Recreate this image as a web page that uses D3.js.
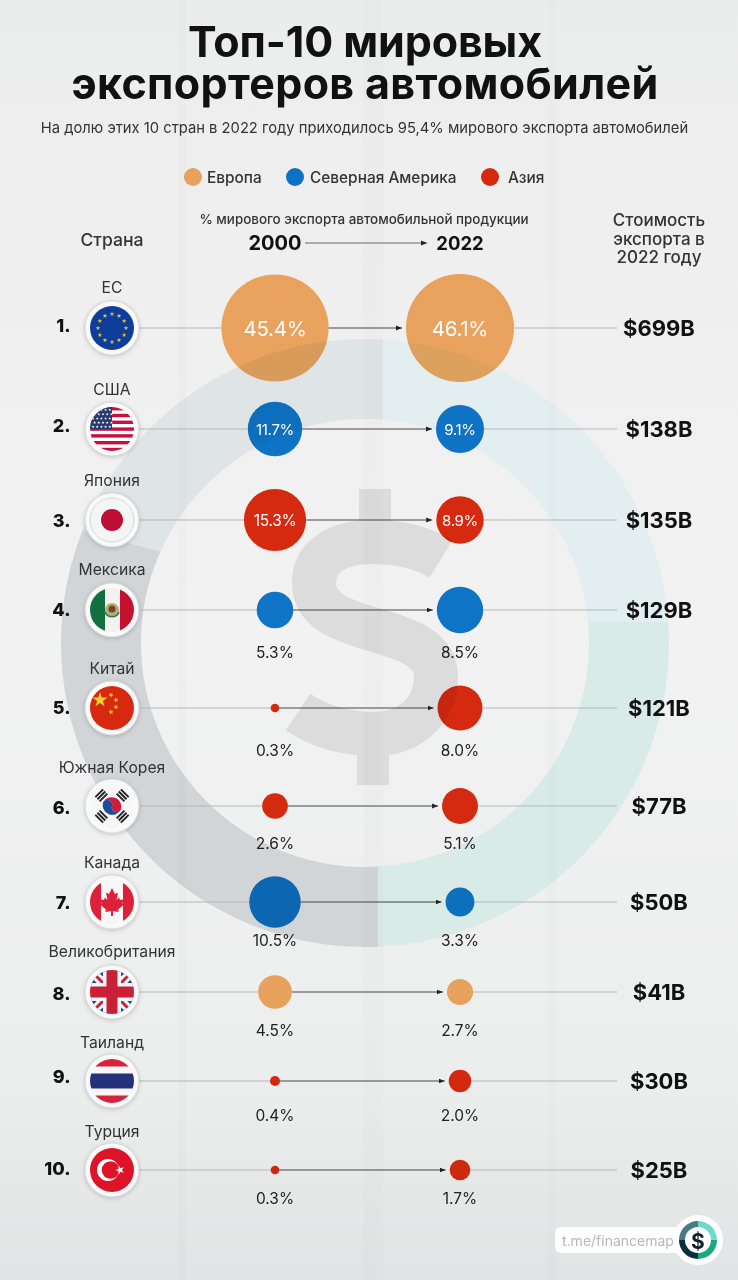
<!DOCTYPE html>
<html><head><meta charset="utf-8">
<script src="https://cdn.jsdelivr.net/npm/d3@7/dist/d3.min.js"></script>
<style>html,body{margin:0;padding:0;background:#eee}svg{display:block}text{font-family:Inter,"Noto Sans",sans-serif}</style>
</head><body><div id="c"></div>
<script>
const countries=["ЕС","США","Япония","Мексика","Китай","Южная Корея","Канада","Великобритания","Таиланд","Турция"];
const regions=["Европа","Северная Америка","Азия"];
const countryRegion=["Европа","Северная Америка","Азия","Северная Америка","Азия","Азия","Северная Америка","Европа","Азия","Азия"];
const share2000=[45.4,11.7,15.3,5.3,0.3,2.6,10.5,4.5,0.4,0.3];
const share2022=[46.1,9.1,8.9,8.5,8.0,5.1,3.3,2.7,2.0,1.7];
const exportValue=[699,138,135,129,121,77,50,41,30,25];
const years=["2000","2022"];
const regionColors=["#f8ad63","#0f7ad2","#e32c10"];
// layout
const rowCentres=[328,429,520,610,708,806,902,992,1081,1170];
const nameCentres=[287,389,480,569,668,767,862,951,1042,1131];
const rankCentres=[325,425,520,609,707,807,902,993,1076,1168];
const labelGaps=[0,0,0,42,42,37,38,38,34,28];
const insideSizes=[20.5,20.5,15,15,15.5,15];

const W=738,H=1280;
const svg=d3.select("#c").append("svg").attr("width",W).attr("height",H).attr("viewBox",[0,0,W,H]);
const defs=svg.append("defs");
const y=d3.scaleOrdinal().domain(countries).range(rowCentres);
const x=d3.scalePoint().domain(years).range([275,460]);
const r=d3.scaleSqrt().domain([0,46.1]).range([0,54]);
const color=d3.scaleOrdinal().domain(regions).range(regionColors);
const pct=v=>v.toFixed(1)+"%";

function txt(g,s,px,py,size,weight,fill,anchor="middle",extra={}){
  const t=g.append("text").attr("x",px).attr("y",py).attr("font-size",size).attr("font-weight",weight)
   .attr("fill",fill).attr("text-anchor",anchor).attr("dominant-baseline","central").text(s);
  for(const k in extra)t.attr(k,extra[k]);
  return t;
}
// background
const bg=defs.append("linearGradient").attr("id","bg").attr("x1",0).attr("x2",0).attr("y1",0).attr("y2",1);
[[0,"#ebecec"],[.1,"#eeeeee"],[.5,"#f2f2f2"],[.85,"#eceded"],[1,"#e1e4e4"]].forEach(d=>bg.append("stop").attr("offset",d[0]).attr("stop-color",d[1]));
svg.append("rect").attr("width",W).attr("height",H).attr("fill","url(#bg)");
const back=svg.append("g");
// logo ring
const cx=365,cy=643,ro=304,ri=224;
const ringPath=d3.arc()({innerRadius:ri,outerRadius:ro,startAngle:0,endAngle:2*Math.PI});
const parts=[
 ["#dfe5e7","M-5,525 L165,553 L383,553 L383,300 L-5,300Z"],
 ["#e2eef0","M383,300 L720,300 L720,622 L378,622 L383,622Z"],
 ["#d8ebe6","M378,622 L720,622 L720,980 L378,980Z"],
 ["#d2d5d7","M40,519 L165,553 L383,553 L378,622 L378,980 L0,980 L0,519Z"]
];
parts.forEach((p,i)=>{
  defs.append("clipPath").attr("id","q"+i).append("path").attr("d",p[1]);
  back.append("g").attr("clip-path",`url(#q${i})`).append("path").attr("d",ringPath)
   .attr("transform",`translate(${cx},${cy})`).attr("fill",p[0]);
});
// dollar
const dc="#dcdcdc";
back.append("path").attr("fill","none").attr("stroke",dc).attr("stroke-width",44)
 .attr("d","M441,559 C420,546 395,542 372,542 C335,542 314,558 314,583 C314,610 340,620 375,630 C410,640 436,650 436,677 C436,710 410,734 375,734 C345,734 320,727 298,712");
back.append("rect").attr("x",359).attr("y",489).attr("width",32).attr("height",40).attr("fill",dc);
back.append("rect").attr("x",357).attr("y",748).attr("width",32).attr("height",37).attr("fill",dc);
// bands
[[178,8],[363,20],[548,8]].forEach(b=>back.append("rect").attr("x",b[0]).attr("y",0).attr("width",b[1]).attr("height",H).attr("fill","#000").attr("opacity",.012));

// header
const title=svg.append("text").attr("text-anchor","middle").attr("font-size",43).attr("font-weight",700).attr("fill","#111");
["Топ-10 мировых","экспортеров автомобилей"].forEach((s,i)=>title.append("tspan").attr("x",365).attr("y",57+i*42).attr("letter-spacing",i?0.35:-0.1).text(s));
txt(svg,"На долю этих 10 стран в 2022 году приходилось 95,4% мирового экспорта автомобилей",364.5,128,14.75,400,"#333");
// legend
const legendDots=[193,295,490],legendText=[207,310,508];
regions.forEach((d,i)=>{
  svg.append("circle").attr("cx",legendDots[i]).attr("cy",177).attr("r",9).attr("fill",color(d)).style("mix-blend-mode","multiply");
  txt(svg,d,legendText[i],177,15.4,500,"#333","start");
});
txt(svg,"% мирового экспорта автомобильной продукции",364,219,13.4,500,"#333");
txt(svg,"2000",x("2000"),243,20,700,"#111");
txt(svg,"2022",x("2022"),243,18.5,700,"#111");
defs.append("marker").attr("id","ah").attr("viewBox","0 0 6 6").attr("refX",6).attr("refY",3).attr("markerWidth",6).attr("markerHeight",6).attr("markerUnits","userSpaceOnUse").attr("orient","auto")
 .append("path").attr("d","M0,0.6L6,3L0,5.4Z").attr("fill","#222");
svg.append("line").attr("x1",305).attr("x2",427).attr("y1",243).attr("y2",243).attr("stroke","#444").attr("stroke-width",.8).attr("marker-end","url(#ah)");
txt(svg,"Страна",112,239,17.6,500,"#333");
["Стоимость","экспорта в","2022 году"].forEach((s,i)=>txt(svg,s,659,220+18.5*i,17,500,"#333"));

// rows
const rows=countries.map((c,i)=>({c,i,reg:countryRegion[i],a:share2000[i],b:share2022[i],v:exportValue[i]}));
const row=svg.selectAll("g.row").data(rows).join("g").attr("class","row");
row.append("line").attr("x1",138).attr("x2",d=>x("2000")-r(d.a)).attr("y1",d=>y(d.c)).attr("y2",d=>y(d.c)).attr("stroke","#b5b7b7").attr("stroke-width",1);
row.append("line").attr("x1",d=>x("2022")+r(d.b)).attr("x2",617).attr("y1",d=>y(d.c)).attr("y2",d=>y(d.c)).attr("stroke","#b5b7b7").attr("stroke-width",1);
row.append("line").attr("x1",d=>x("2000")+r(d.a)).attr("x2",d=>x("2022")-r(d.b)-4).attr("y1",d=>y(d.c)).attr("y2",d=>y(d.c)).attr("stroke","#333").attr("stroke-width",.9).attr("marker-end","url(#ah)");
row.append("circle").attr("cx",x("2000")).attr("cy",d=>y(d.c)).attr("r",d=>r(d.a)).attr("fill",d=>color(d.reg)).style("mix-blend-mode","multiply");
row.append("circle").attr("cx",x("2022")).attr("cy",d=>y(d.c)).attr("r",d=>r(d.b)).attr("fill",d=>color(d.reg)).style("mix-blend-mode","multiply");
rows.forEach(d=>{
  const g=row.filter(e=>e===d),Y=y(d.c),i=d.i;
  if(i<3){
    txt(g,pct(d.a),x("2000"),Y,insideSizes[i*2],400,"#fff",undefined,{"letter-spacing":-0.3});
    txt(g,pct(d.b),x("2022"),Y,insideSizes[i*2+1],400,"#fff",undefined,{"letter-spacing":-0.3});
  }else{
    txt(g,pct(d.a),x("2000"),Y+labelGaps[i],15.5,400,"#222");
    txt(g,pct(d.b),x("2022"),Y+labelGaps[i],15.5,400,"#222");
  }
  txt(g,"$"+d.v+"B",659,Y,22,700,"#111");
  txt(g,(i+1)+".",70.5,rankCentres[i],18,800,"#111","end");
  txt(g,d.c,112,nameCentres[i],15.7,400,"#333");
  flag(g,d.c,i,112,Y);
});

function star(g,cx,cy,size,fill,rot=0){
  g.append("path").attr("d",d3.symbol(d3.symbolStar,size)()).attr("transform",`translate(${cx},${cy}) rotate(${rot})`).attr("fill",fill);
}
function flag(g0,name,i,fx,fy){
  const o=g0.append("g").attr("transform",`translate(${fx},${fy})`);
  o.append("circle").attr("r",27).attr("fill","#f9f9f9").attr("stroke","#d8d9d9").attr("stroke-width",1).style("filter","drop-shadow(0 1px 2px rgba(0,0,0,.18))");
  defs.append("clipPath").attr("id","f"+i).append("circle").attr("r",22);
  if(name==="Япония")o.append("circle").attr("r",22).attr("fill","#f4f5f5").attr("stroke","#cfd1d1").attr("stroke-width",.8);
  const g=o.append("g").attr("clip-path",`url(#f${i})`);
  const R=(a,b,w,h,f)=>g.append("rect").attr("x",a).attr("y",b).attr("width",w).attr("height",h).attr("fill",f);
  if(name==="ЕС"){
    R(-22,-22,44,44,"#0f3d9a");
    d3.range(12).forEach(k=>{const a=k*Math.PI/6;star(g,14*Math.sin(a),-14*Math.cos(a),7,"#e7c23c");});
  }else if(name==="США"){
    R(-22,-22,44,44,"#fff");
    d3.range(7).forEach(k=>R(-22,-22+k*6.8,44,3.4,"#c8103e"));
    R(-22,-22,22,22,"#26386f");
    d3.range(5).forEach(a=>d3.range(5).forEach(b=>star(g,-19+a*4.2+(b%2)*1.6,-19+b*4.2,3,"#fff")));
  }else if(name==="Япония"){
    g.append("circle").attr("r",11).attr("fill","#bc0f35");
  }else if(name==="Мексика"){
    R(-22,-22,44,44,"#f2f2f2");R(-22,-22,15,44,"#11703f");R(8,-22,14,44,"#c4122f");
    g.append("circle").attr("r",7).attr("fill","#b8a878");g.append("circle").attr("cy",-1).attr("r",3.5).attr("fill","#6a4a26");
    g.append("path").attr("d","M-7,2 A7.5,7.5 0 0 0 7,2").attr("fill","none").attr("stroke","#2d7b4a").attr("stroke-width",1.6);
  }else if(name==="Китай"){
    R(-22,-22,44,44,"#d7290f");
    star(g,-12,-8,70,"#f7cc2c");
    [[-1,-13,30],[4,-8,60],[4,-1,30],[-1,4,60]].forEach(s=>star(g,s[0],s[1],9,"#f7cc2c",s[2]));
  }else if(name==="Южная Корея"){
    R(-22,-22,44,44,"#f7f7f7");
    g.append("path").attr("d","M-9,-3.5 A9.7,9.7 0 0 1 9,3.5 A4.85,4.85 0 0 1 0,0 A4.85,4.85 0 0 0 -9,-3.5Z").attr("fill","#cf1c3b");
    g.append("path").attr("d","M-9,-3.5 A9.7,9.7 0 0 0 9,3.5 A4.85,4.85 0 0 1 0,0 A4.85,4.85 0 0 0 -9,-3.5Z").attr("fill","#1d4c9a");
    [45,135,225,315].forEach(a=>{
      const t=g.append("g").attr("transform",`rotate(${a}) translate(0,-15)`);
      [-3,0,3].forEach(k=>t.append("rect").attr("x",-5.5).attr("y",k-1).attr("width",11).attr("height",1.9).attr("fill","#222"));
    });
  }else if(name==="Канада"){
    R(-22,-22,44,44,"#f7f7f7");R(-22,-22,11,44,"#dc2139");R(11,-22,11,44,"#dc2139");
    g.append("path").attr("fill","#dc2139").attr("d","M0,-14 L3,-8 L6,-9.5 L4.5,-2 L7,-4.5 L8,-2 L11.5,-2.5 L10.5,1.5 L12,2.5 L6,7.5 L6.8,10 L1,9 L1,14 L-1,14 L-1,9 L-6.8,10 L-6,7.5 L-12,2.5 L-10.5,1.5 L-11.5,-2.5 L-8,-2 L-7,-4.5 L-4.5,-2 L-6,-9.5 L-3,-8Z");
  }else if(name==="Великобритания"){
    R(-22,-22,44,44,"#1f3f95");
    [45,-45].forEach(a=>{
      g.append("rect").attr("x",-32).attr("y",-4.5).attr("width",64).attr("height",9).attr("fill","#f6f6f6").attr("transform",`rotate(${a})`);
      g.append("rect").attr("x",-32).attr("y",-1.5).attr("width",64).attr("height",3).attr("fill","#c91f37").attr("transform",`rotate(${a})`);
    });
    R(-22,-9,44,18,"#f6f6f6");R(-9,-22,18,44,"#f6f6f6");
    R(-22,-5.5,44,11,"#c91f37");R(-5.5,-22,11,44,"#c91f37");
  }else if(name==="Таиланд"){
    R(-22,-22,44,44,"#f7f7f7");R(-22,-22,44,7.5,"#d6233c");R(-22,14.5,44,7.5,"#d6233c");R(-22,-7.5,44,15,"#23327a");
  }else if(name==="Турция"){
    R(-22,-22,44,44,"#dd1327");
    g.append("circle").attr("cx",-4).attr("r",11).attr("fill","#fff");
    g.append("circle").attr("cx",-1.5).attr("r",8.8).attr("fill","#dd1327");
    star(g,8,0,26,"#fff",-18);
  }
}
// footer
const ft=svg.append("g");
ft.append("rect").attr("x",555).attr("y",1227).attr("width",135).attr("height",26).attr("rx",6).attr("fill","#fff");
txt(ft,"t.me/financemap",562,1240,14,400,"#b7b7b7","start");
ft.append("circle").attr("cx",698).attr("cy",1240).attr("r",25).attr("fill","#fff");
const arcF=d3.arc().innerRadius(13).outerRadius(19);
["#72d8ca","#1aa87f","#0c2d3e","#4b7b86"].forEach((f,k)=>ft.append("path").attr("transform","translate(698,1240)").attr("d",arcF({startAngle:k*Math.PI/2,endAngle:(k+1)*Math.PI/2})).attr("fill",f));
txt(ft,"$",698,1241,21,700,"#10222c");
</script></body></html>
